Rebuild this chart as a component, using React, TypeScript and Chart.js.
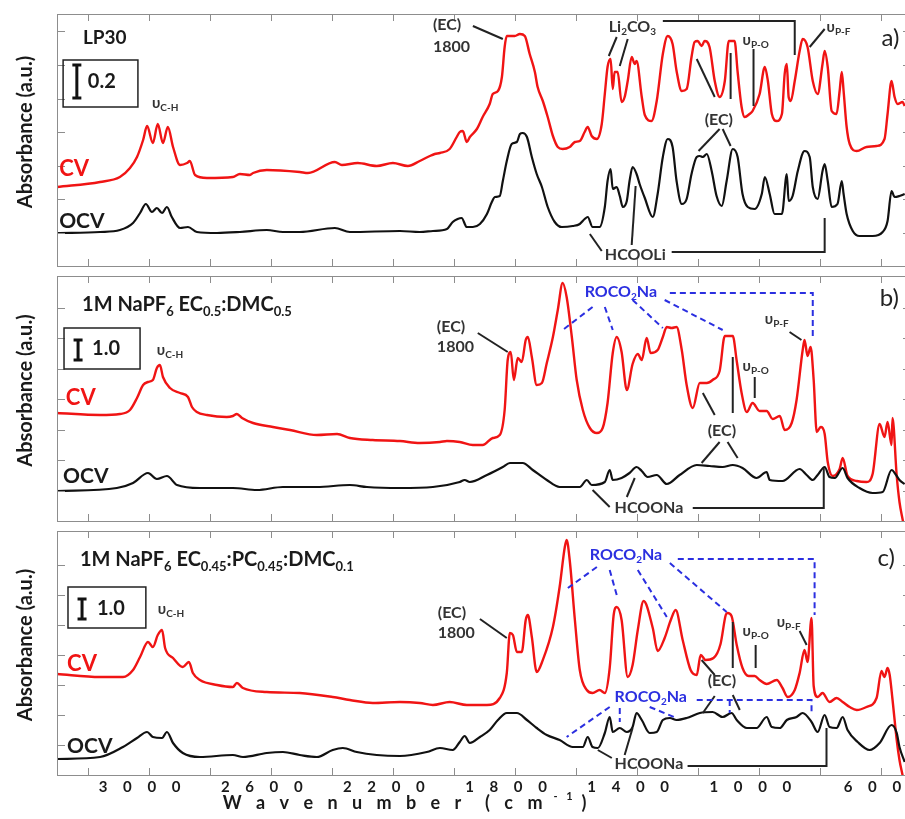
import { useEffect, useRef } from 'react';
import { Chart, registerables } from 'chart.js';
Chart.register(...registerables);

type Pt = [number, number];

// ---- x axis (wavenumber, cm-1) ----
const xTicks = [3200, 3000, 2800, 2600, 2400, 2200, 2000, 1800, 1600, 1400, 1200, 1000, 800, 600];
const xTickLabels = [3000, 2600, 2200, 1800, 1400, 1000, 600];

// ---- panel a) LP30 ----
const lp30CV: Pt[] = [
  [3300, 0.79], [3159, 0.84], [3094, 0.89], [3061, 0.98], [3038, 1.09], [3018, 1.26], [3005, 1.40], [2986, 1.23],
  [2970, 1.42], [2953, 1.23], [2937, 1.39], [2920, 1.19], [2897, 1.01], [2874, 1.03], [2865, 1.05], [2848, 0.91],
  [2809, 0.88], [2724, 0.89], [2701, 0.92], [2668, 0.91], [2658, 0.93], [2613, 0.96], [2505, 0.94], [2478, 0.93],
  [2390, 1.04], [2367, 1.01], [2315, 1.03], [2253, 1.00], [2200, 1.03], [2151, 1.00], [2112, 1.05], [2079, 1.10],
  [2063, 1.12], [2046, 1.13], [2014, 1.17], [1991, 1.29], [1981, 1.34], [1971, 1.35], [1958, 1.24], [1948, 1.29],
  [1925, 1.37], [1906, 1.49], [1883, 1.62], [1873, 1.72], [1856, 1.75], [1843, 1.89], [1834, 2.19], [1827, 2.30],
  [1801, 2.30], [1784, 2.32], [1768, 2.30], [1752, 2.12], [1735, 1.94], [1726, 1.79], [1709, 1.65], [1693, 1.49],
  [1676, 1.30], [1660, 1.19], [1644, 1.17], [1621, 1.19], [1604, 1.24], [1588, 1.25], [1572, 1.34], [1562, 1.39],
  [1549, 1.30], [1532, 1.27], [1516, 1.42], [1506, 1.72], [1497, 1.99], [1487, 2.07], [1480, 1.77], [1474, 1.94],
  [1464, 1.94], [1451, 1.64], [1441, 1.69], [1431, 1.85], [1418, 2.09], [1408, 2.02], [1402, 2.05], [1385, 1.69],
  [1375, 1.51], [1353, 1.45], [1336, 1.65], [1316, 2.12], [1300, 2.30], [1284, 2.22], [1271, 1.95], [1254, 1.75],
  [1238, 1.77], [1222, 2.09], [1212, 2.24], [1202, 2.25], [1189, 2.20], [1179, 2.25], [1163, 2.19], [1146, 1.85],
  [1130, 1.69], [1113, 1.85], [1100, 2.25], [1081, 2.25], [1071, 1.94], [1058, 1.59], [1048, 1.49], [1032, 1.52],
  [1022, 1.55], [999, 1.72], [982, 1.99], [972, 1.85], [959, 1.52], [943, 1.45], [926, 1.52], [917, 1.92],
  [910, 2.02], [904, 1.69], [897, 1.65], [884, 1.85], [868, 2.15], [858, 2.27], [842, 2.19], [825, 1.85],
  [809, 1.72], [793, 2.02], [786, 2.15], [776, 1.99], [763, 1.55], [747, 1.52], [737, 1.75], [730, 1.94],
  [724, 1.75], [714, 1.39], [704, 1.22], [681, 1.15], [649, 1.19], [616, 1.20], [590, 1.27], [580, 1.52],
  [567, 1.85], [557, 1.69], [547, 1.62], [531, 1.64], [524, 1.60],
];
const lp30OCV: Pt[] = [
  [3300, 0.33], [3159, 0.34], [3094, 0.36], [3051, 0.43], [3028, 0.53], [3009, 0.62], [2989, 0.54], [2973, 0.58],
  [2956, 0.53], [2940, 0.59], [2924, 0.49], [2897, 0.38], [2871, 0.39], [2842, 0.34], [2776, 0.33], [2701, 0.34],
  [2613, 0.36], [2560, 0.34], [2505, 0.34], [2390, 0.38], [2341, 0.34], [2177, 0.35], [2112, 0.34], [2069, 0.35],
  [2023, 0.37], [2004, 0.44], [1988, 0.47], [1975, 0.48], [1958, 0.39], [1938, 0.39], [1915, 0.42], [1892, 0.52],
  [1876, 0.64], [1866, 0.69], [1850, 0.70], [1840, 0.85], [1827, 1.05], [1811, 1.22], [1794, 1.24], [1784, 1.32],
  [1775, 1.33], [1761, 1.29], [1745, 1.09], [1729, 0.92], [1712, 0.79], [1693, 0.59], [1670, 0.44], [1647, 0.39],
  [1611, 0.40], [1588, 0.42], [1572, 0.47], [1562, 0.49], [1546, 0.39], [1523, 0.39], [1506, 0.59], [1497, 0.85],
  [1487, 0.97], [1480, 0.77], [1467, 0.79], [1457, 0.70], [1447, 0.59], [1434, 0.65], [1425, 0.85], [1415, 0.99],
  [1402, 0.92], [1392, 0.82], [1375, 0.68], [1349, 0.49], [1333, 0.72], [1316, 1.09], [1300, 1.27], [1284, 1.19],
  [1271, 0.85], [1254, 0.62], [1238, 0.67], [1222, 0.92], [1205, 1.09], [1195, 1.10], [1185, 1.09], [1172, 1.12],
  [1156, 0.95], [1140, 0.70], [1123, 0.60], [1107, 0.85], [1087, 1.17], [1071, 1.09], [1055, 0.72], [1038, 0.59],
  [1015, 0.57], [992, 0.72], [982, 0.89], [966, 0.72], [950, 0.52], [926, 0.52], [910, 0.92], [904, 0.65],
  [891, 0.70], [874, 0.95], [852, 1.15], [835, 1.09], [825, 0.79], [809, 0.67], [793, 0.95], [786, 1.02],
  [776, 0.85], [763, 0.59], [744, 0.62], [730, 0.85], [724, 0.72], [714, 0.52], [694, 0.35], [672, 0.30],
  [629, 0.30], [596, 0.34], [580, 0.45], [567, 0.75], [557, 0.69], [541, 0.70], [524, 0.72],
];

// ---- panel b) 1M NaPF6 EC0.5:DMC0.5 ----
const ecDmcCV: Pt[] = [
  [3300, 1.08], [3159, 1.06], [3094, 1.07], [3061, 1.11], [3038, 1.23], [3018, 1.36], [3002, 1.39], [2986, 1.41],
  [2973, 1.53], [2963, 1.56], [2953, 1.44], [2930, 1.33], [2897, 1.28], [2871, 1.24], [2858, 1.14], [2842, 1.09],
  [2809, 1.06], [2744, 1.04], [2724, 1.05], [2711, 1.07], [2694, 1.03], [2658, 0.98], [2593, 0.94], [2537, 0.91],
  [2449, 0.86], [2383, 0.87], [2341, 0.83], [2266, 0.81], [2177, 0.80], [2112, 0.78], [2046, 0.79], [2023, 0.80],
  [1981, 0.79], [1938, 0.76], [1906, 0.76], [1873, 0.83], [1850, 0.86], [1834, 1.11], [1824, 1.61], [1814, 1.69],
  [1804, 1.41], [1791, 1.63], [1778, 1.59], [1765, 1.81], [1758, 1.84], [1745, 1.64], [1729, 1.36], [1712, 1.38],
  [1696, 1.58], [1676, 1.84], [1660, 2.11], [1644, 2.38], [1631, 2.24], [1614, 1.84], [1598, 1.41], [1578, 1.11],
  [1555, 0.93], [1532, 0.88], [1513, 0.93], [1497, 1.18], [1480, 1.68], [1467, 1.84], [1451, 1.69], [1434, 1.31],
  [1415, 1.57], [1398, 1.67], [1385, 1.61], [1369, 1.83], [1356, 1.68], [1333, 1.71], [1316, 1.84], [1303, 1.94],
  [1287, 1.93], [1271, 1.94], [1254, 1.71], [1238, 1.36], [1218, 1.13], [1195, 1.38], [1172, 1.38], [1153, 1.41],
  [1130, 1.50], [1113, 1.85], [1087, 1.85], [1074, 1.60], [1058, 1.28], [1041, 1.09], [1022, 1.18], [999, 1.10],
  [976, 1.10], [956, 1.02], [933, 1.05], [917, 0.91], [894, 0.98], [878, 1.21], [858, 1.71], [852, 1.81],
  [842, 1.65], [832, 1.74], [822, 1.41], [812, 0.89], [799, 0.94], [786, 0.87], [776, 0.59], [760, 0.45],
  [737, 0.52], [727, 0.63], [711, 0.45], [681, 0.40], [649, 0.39], [629, 0.47], [606, 0.97], [590, 0.84],
  [580, 0.99], [567, 0.76], [564, 1.03], [550, 0.45], [541, 0.19], [531, 0.02], [524, -0.09],
];
const ecDmcOCV: Pt[] = [
  [3300, 0.30], [3104, 0.33], [3051, 0.38], [3002, 0.48], [2973, 0.42], [2940, 0.45], [2907, 0.36], [2832, 0.33],
  [2724, 0.33], [2645, 0.31], [2560, 0.34], [2449, 0.34], [2341, 0.36], [2285, 0.34], [2177, 0.33], [2069, 0.34],
  [1981, 0.39], [1965, 0.41], [1948, 0.39], [1892, 0.46], [1840, 0.54], [1817, 0.58], [1775, 0.58], [1742, 0.51],
  [1696, 0.41], [1654, 0.34], [1588, 0.34], [1565, 0.41], [1549, 0.36], [1506, 0.39], [1490, 0.51], [1480, 0.41],
  [1451, 0.43], [1425, 0.48], [1402, 0.54], [1385, 0.50], [1366, 0.44], [1336, 0.46], [1303, 0.37], [1261, 0.46],
  [1205, 0.56], [1163, 0.55], [1120, 0.54], [1087, 0.56], [1055, 0.53], [1009, 0.43], [976, 0.49], [966, 0.41],
  [924, 0.40], [868, 0.52], [845, 0.46], [825, 0.41], [809, 0.46], [786, 0.54], [770, 0.44], [753, 0.43],
  [727, 0.53], [711, 0.43], [672, 0.33], [629, 0.28], [596, 0.29], [567, 0.51], [550, 0.45], [541, 0.41], [524, 0.37],
];

// ---- panel c) 1M NaPF6 EC0.45:PC0.45:DMC0.1 ----
const ecPcCV: Pt[] = [
  [3300, 1.01], [3159, 0.98], [3084, 0.98], [3051, 1.05], [3028, 1.18], [3002, 1.33], [2986, 1.28], [2970, 1.40],
  [2956, 1.45], [2946, 1.27], [2920, 1.17], [2888, 1.08], [2868, 1.13], [2855, 1.02], [2832, 0.95], [2776, 0.90],
  [2724, 0.88], [2711, 0.92], [2691, 0.87], [2613, 0.83], [2505, 0.82], [2397, 0.78], [2341, 0.75], [2266, 0.72],
  [2177, 0.73], [2112, 0.72], [2069, 0.70], [2014, 0.73], [1958, 0.70], [1892, 0.70], [1850, 0.77], [1827, 1.02],
  [1817, 1.42], [1807, 1.40], [1794, 1.23], [1778, 1.23], [1765, 1.55], [1758, 1.60], [1745, 1.38], [1729, 1.03],
  [1709, 1.15], [1676, 1.48], [1654, 1.88], [1637, 2.28], [1631, 2.35], [1621, 2.15], [1604, 1.55], [1588, 1.05],
  [1565, 0.85], [1546, 0.82], [1523, 0.85], [1506, 0.82], [1490, 1.07], [1477, 1.60], [1467, 1.68], [1451, 1.55],
  [1431, 0.98], [1415, 1.10], [1398, 1.45], [1379, 1.74], [1349, 1.47], [1333, 1.24], [1310, 1.37], [1290, 1.55],
  [1274, 1.65], [1251, 1.35], [1225, 1.05], [1205, 1.00], [1192, 1.20], [1176, 1.15], [1150, 1.17], [1127, 1.31],
  [1110, 1.60], [1104, 1.62], [1091, 1.59], [1074, 1.30], [1055, 1.07], [1035, 0.99], [1015, 0.99], [999, 0.95],
  [976, 0.91], [943, 0.95], [924, 0.87], [907, 0.78], [884, 0.85], [868, 1.02], [852, 1.25], [842, 1.13],
  [829, 1.57], [822, 0.89], [809, 0.78], [793, 0.82], [770, 0.73], [747, 0.77], [727, 0.73], [704, 0.68],
  [681, 0.65], [649, 0.68], [616, 0.77], [600, 1.04], [590, 0.98], [580, 1.07], [573, 1.00], [564, 0.76],
  [550, 0.35], [541, 0.15], [531, 0.00], [524, -0.10],
];
const ecPcOCV: Pt[] = [
  [3300, 0.16], [3159, 0.18], [3084, 0.28], [3038, 0.37], [3005, 0.43], [2986, 0.38], [2956, 0.37], [2940, 0.43],
  [2920, 0.32], [2888, 0.22], [2832, 0.18], [2724, 0.20], [2691, 0.18], [2613, 0.22], [2560, 0.23], [2505, 0.20],
  [2449, 0.18], [2397, 0.25], [2364, 0.27], [2318, 0.23], [2253, 0.20], [2177, 0.19], [2089, 0.23], [2046, 0.27],
  [2004, 0.25], [1981, 0.33], [1965, 0.39], [1948, 0.32], [1915, 0.38], [1883, 0.45], [1856, 0.55], [1827, 0.62],
  [1794, 0.62], [1761, 0.55], [1729, 0.47], [1696, 0.40], [1654, 0.35], [1611, 0.28], [1578, 0.28], [1562, 0.38],
  [1546, 0.28], [1529, 0.27], [1506, 0.42], [1490, 0.58], [1480, 0.43], [1457, 0.47], [1434, 0.43], [1415, 0.48],
  [1402, 0.62], [1385, 0.55], [1359, 0.42], [1336, 0.43], [1316, 0.55], [1293, 0.57], [1271, 0.55], [1238, 0.57],
  [1195, 0.62], [1153, 0.63], [1120, 0.58], [1091, 0.62], [1074, 0.55], [1041, 0.47], [1009, 0.47], [976, 0.58],
  [959, 0.48], [933, 0.47], [910, 0.55], [878, 0.58], [858, 0.62], [829, 0.53], [809, 0.43], [786, 0.60],
  [770, 0.48], [747, 0.47], [727, 0.58], [711, 0.45], [678, 0.33], [639, 0.25], [606, 0.32], [567, 0.50],
  [550, 0.42], [541, 0.28], [524, 0.13],
];

// ---- styling ----
const FONT = "Lato, 'Open Sans', 'DejaVu Sans', sans-serif";
const RED = '#f01414';
const BLUE = '#2b2fe0';
const INK = '#1a1a1a';

type Ann =
  | { k: 't'; at: Pt; s: string; size: number; color?: string; weight?: string }
  | { k: 'l'; pts: Pt[]; dash?: boolean }
  | { k: 'box'; a: Pt; b: Pt }
  | { k: 'bar'; x: number; y1: number; y2: number };

const T = (x: number, y: number, s: string, size: number, color?: string, weight?: string): Ann => ({ k: 't', at: [x, y], s, size, color, weight });
const L = (...pts: Pt[]): Ann => ({ k: 'l', pts });
const D = (...pts: Pt[]): Ann => ({ k: 'l', pts, dash: true });

const annA: Ann[] = [
  T(3215, 2.28, 'LP30', 19),
  { k: 'box', a: [3280, 2.06], b: [3035, 1.59] },
  { k: 'bar', x: 3235, y1: 2.02, y2: 1.67 },
  T(3199, 1.84, '0.2', 20),
  T(2989, 1.63, 'υ_{C-H}', 15, '#333'),
  T(3293, 0.97, 'CV', 22, RED),
  T(3293, 0.45, 'OCV', 21),
  T(2069, 2.41, '(EC)', 16, '#333'),
  T(2069, 2.19, '1800', 16, '#333'),
  L([1938, 2.40], [1840, 2.27]),
  T(1493, 2.39, 'Li_{2}CO_{3}', 16, '#333'),
  L([1467, 2.29], [1493, 2.10]),
  L([1431, 2.27], [1457, 2.00]),
  L([1316, 2.45], [884, 2.45], [884, 2.11]),
  T(1055, 2.26, 'υ_{P-O}', 15, '#333'),
  L([1019, 2.17], [1019, 1.60]),
  T(780, 2.39, 'υ_{P-F}', 15, '#333'),
  L([786, 2.37], [835, 2.19]),
  T(600, 2.28, 'a)', 24, '#222', 'normal'),
  T(1179, 1.46, '(EC)', 16, '#333'),
  L([1205, 2.07], [1146, 1.69]),
  L([1094, 2.13], [1094, 1.67]),
  L([1130, 1.37], [1199, 1.15]),
  L([1120, 1.37], [1094, 1.20]),
  T(1506, 0.11, 'HCOOLi', 16, '#333'),
  L([1555, 0.32], [1516, 0.15]),
  L([1405, 0.80], [1418, 0.21]),
  L([1287, 0.14], [786, 0.14], [786, 0.48]),
];

const annB: Ann[] = [
  T(3218, 2.16, '1M NaPF_{6} EC_{0.5}:DMC_{0.5}', 20),
  { k: 'box', a: [3277, 1.93], b: [3028, 1.52] },
  { k: 'bar', x: 3231, y1: 1.82, y2: 1.60 },
  T(3185, 1.72, '1.0', 20),
  T(2973, 1.71, 'υ_{C-H}', 15, '#333'),
  T(3271, 1.23, 'CV', 22, RED),
  T(3280, 0.45, 'OCV', 21),
  T(2056, 1.94, '(EC)', 16, '#333'),
  T(2056, 1.74, '1800', 16, '#333'),
  L([1922, 1.88], [1824, 1.69]),
  T(1572, 2.29, 'ROCO_{2}Na', 16, BLUE),
  D([1546, 2.14], [1644, 1.91]),
  D([1506, 2.14], [1480, 1.91]),
  D([1415, 2.21], [1316, 1.93]),
  D([1310, 2.21], [1120, 1.91]),
  D([1293, 2.28], [825, 2.28], [825, 1.81]),
  T(1055, 1.55, 'υ_{P-O}', 15, '#333'),
  L([1015, 1.44], [1015, 1.23]),
  L([1087, 1.64], [1087, 1.08]),
  L([1185, 1.28], [1146, 1.06]),
  T(982, 2.02, 'υ_{P-F}', 15, '#333'),
  L([901, 1.89], [862, 1.81]),
  T(606, 2.23, 'b)', 24, '#222', 'normal'),
  T(1169, 0.90, '(EC)', 16, '#333'),
  L([1130, 0.79], [1189, 0.58]),
  L([1104, 0.79], [1071, 0.63]),
  T(1474, 0.13, 'HCOONa', 16, '#333'),
  L([1546, 0.31], [1490, 0.14]),
  L([1408, 0.43], [1434, 0.24]),
  L([1218, 0.13], [789, 0.13], [789, 0.53]),
];

const annC: Ann[] = [
  T(3225, 2.15, '1M NaPF_{6} EC_{0.45}:PC_{0.45}:DMC_{0.1}', 20),
  { k: 'box', a: [3264, 1.88], b: [3009, 1.47] },
  { k: 'bar', x: 3218, y1: 1.77, y2: 1.55 },
  T(3169, 1.66, '1.0', 20),
  T(2970, 1.66, 'υ_{C-H}', 15, '#333'),
  T(3267, 1.11, 'CV', 22, RED),
  T(3267, 0.29, 'OCV', 21),
  T(2053, 1.62, '(EC)', 16, '#333'),
  T(2053, 1.42, '1800', 16, '#333'),
  L([1915, 1.56], [1827, 1.37]),
  T(1555, 2.20, 'ROCO_{2}Na', 16, BLUE),
  D([1532, 2.08], [1627, 1.87]),
  D([1490, 2.05], [1467, 1.80]),
  D([1398, 2.05], [1303, 1.58]),
  D([1293, 2.12], [1107, 1.63]),
  D([1267, 2.16], [819, 2.16], [819, 1.60]),
  T(1055, 1.44, 'υ_{P-O}', 15, '#333'),
  L([1012, 1.30], [1012, 1.07]),
  L([1087, 1.53], [1087, 1.07]),
  L([1189, 1.15], [1146, 1.00]),
  T(943, 1.53, 'υ_{P-F}', 15, '#333'),
  L([868, 1.44], [845, 1.30]),
  T(613, 2.17, 'c)', 24, '#222', 'normal'),
  T(1169, 0.94, '(EC)', 16, '#333'),
  L([1146, 0.79], [1185, 0.62]),
  L([1087, 0.80], [1064, 0.65]),
  T(1474, 0.78, 'ROCO_{2}Na', 16, BLUE),
  D([1490, 0.68], [1631, 0.38]),
  D([1457, 0.67], [1457, 0.53]),
  D([1359, 0.68], [1271, 0.57]),
  D([1205, 0.75], [829, 0.75], [829, 0.60]),
  D([1097, 0.75], [1097, 0.62]),
  T(1474, 0.11, 'HCOONa', 16, '#333'),
  L([1529, 0.25], [1483, 0.17]),
  L([1415, 0.47], [1441, 0.20]),
  L([1235, 0.09], [780, 0.09], [780, 0.47]),
];

type PanelCfg = {
  cv: Pt[];
  ocv: Pt[];
  ann: Ann[];
  yMax: number;
  yStep: number;
  top: number;
  height: number;
  padTop: number;
  padBottom: number;
  xLabels: boolean;
};

const panels: PanelCfg[] = [
  { cv: lp30CV, ocv: lp30OCV, ann: annA, yMax: 2.52, yStep: 0.335, top: 0, height: 275, padTop: 14, padBottom: 9, xLabels: false },
  { cv: ecDmcCV, ocv: ecDmcOCV, ann: annB, yMax: 2.45, yStep: 0.305, top: 271, height: 255, padTop: 5, padBottom: 5, xLabels: false },
  { cv: ecPcCV, ocv: ecPcOCV, ann: annC, yMax: 2.44, yStep: 0.30, top: 526, height: 293, padTop: 5, padBottom: 44, xLabels: true },
];

function drawRich(ctx: CanvasRenderingContext2D, text: string, x: number, y: number, size: number, weight: string, color: string) {
  const parts = text.split(/(_\{[^}]*\}|\^\{[^}]*\})/).filter((p) => p.length > 0);
  let cx = x;
  ctx.fillStyle = color;
  ctx.textBaseline = 'middle';
  ctx.textAlign = 'left';
  for (const p of parts) {
    let t = p;
    let s = size;
    let dy = 0;
    if (p.startsWith('_{')) { t = p.slice(2, -1); s = Math.round(size * 0.65); dy = size * 0.32; }
    else if (p.startsWith('^{')) { t = p.slice(2, -1); s = Math.round(size * 0.65); dy = -size * 0.38; }
    ctx.font = `${weight} ${s}px ${FONT}`;
    ctx.fillText(t, cx, y + dy);
    cx += ctx.measureText(t).width;
  }
}

function makePlugin(cfg: PanelCfg) {
  return {
    id: 'panelDecor',
    afterDraw(chart: any) {
      const ctx: CanvasRenderingContext2D = chart.ctx;
      const a = chart.chartArea;
      const xs = chart.scales.x;
      const ys = chart.scales.y;
      const X = (v: number) => xs.getPixelForValue(v);
      const Y = (v: number) => ys.getPixelForValue(v);
      ctx.save();
      // frame
      ctx.strokeStyle = '#8d8d8d';
      ctx.lineWidth = 1;
      ctx.strokeRect(Math.round(a.left) + 0.5, Math.round(a.top) + 0.5, Math.round(a.right - a.left), Math.round(a.bottom - a.top));
      // inward ticks
      ctx.beginPath();
      for (const w of xTicks) {
        const px = Math.round(X(w)) + 0.5;
        ctx.moveTo(px, a.bottom); ctx.lineTo(px, a.bottom - 7);
        ctx.moveTo(px, a.top); ctx.lineTo(px, a.top + 7);
      }
      for (let k = 1; k * cfg.yStep < cfg.yMax - 0.05; k++) {
        const py = Math.round(Y(k * cfg.yStep)) + 0.5;
        ctx.moveTo(a.left, py); ctx.lineTo(a.left + 8, py);
        ctx.moveTo(a.right, py); ctx.lineTo(a.right - 9, py);
      }
      ctx.stroke();

      // annotations
      for (const an of cfg.ann) {
        if (an.k === 't') {
          drawRich(ctx, an.s, X(an.at[0]), Y(an.at[1]), an.size, an.weight ?? 'bold', an.color ?? INK);
        } else if (an.k === 'l') {
          ctx.beginPath();
          ctx.strokeStyle = an.dash ? BLUE : '#222';
          ctx.lineWidth = 2;
          ctx.setLineDash(an.dash ? [6, 4] : []);
          an.pts.forEach(([wx, wy], i) => (i === 0 ? ctx.moveTo(X(wx), Y(wy)) : ctx.lineTo(X(wx), Y(wy))));
          ctx.stroke();
          ctx.setLineDash([]);
        } else if (an.k === 'box') {
          ctx.strokeStyle = '#222';
          ctx.lineWidth = 1.5;
          const x1 = X(an.a[0]), y1 = Y(an.a[1]), x2 = X(an.b[0]), y2 = Y(an.b[1]);
          ctx.strokeRect(x1, y1, x2 - x1, y2 - y1);
        } else if (an.k === 'bar') {
          const bx = X(an.x), b1 = Y(an.y1), b2 = Y(an.y2);
          ctx.strokeStyle = '#111';
          ctx.lineWidth = 3;
          ctx.beginPath();
          ctx.moveTo(bx, b1); ctx.lineTo(bx, b2);
          ctx.moveTo(bx - 4.5, b1 + 1); ctx.lineTo(bx + 4.5, b1 + 1);
          ctx.moveTo(bx - 4.5, b2 - 1); ctx.lineTo(bx + 4.5, b2 - 1);
          ctx.stroke();
        }
      }

      // y-axis title
      ctx.save();
      ctx.translate(a.left - 31, (a.top + a.bottom) / 2 - 8);
      ctx.rotate(-Math.PI / 2);
      ctx.font = `bold 20px ${FONT}`;
      ctx.fillStyle = INK;
      ctx.textAlign = 'center';
      ctx.textBaseline = 'middle';
      ctx.fillText('Absorbance (a.u.)', 0, 0);
      ctx.restore();

      // x-axis labels and title
      if (cfg.xLabels) {
        const c2: any = ctx;
        ctx.fillStyle = INK;
        ctx.textBaseline = 'middle';
        ctx.textAlign = 'center';
        ctx.font = `bold 15px ${FONT}`;
        c2.letterSpacing = '6px';
        for (const w of xTickLabels) {
          const lbl = String(w).split('').join(' ');
          ctx.fillText(lbl, X(w) - 6, a.bottom + 12);
        }
        ctx.font = `bold 18px ${FONT}`;
        c2.letterSpacing = '5px';
        ctx.textAlign = 'left';
        const main = 'W a v e n u m b e r  ( c m';
        const x0 = X(2757);
        const yT = a.bottom + 28;
        ctx.fillText(main, x0, yT);
        let cx = x0 + ctx.measureText(main).width + 6;
        ctx.font = `bold 11px ${FONT}`;
        c2.letterSpacing = '3px';
        ctx.fillText('- 1', cx, yT - 7);
        cx += ctx.measureText('- 1').width + 6;
        ctx.font = `bold 18px ${FONT}`;
        c2.letterSpacing = '0px';
        ctx.fillText(')', cx, yT);
      }
      ctx.restore();
    },
  };
}

function Panel({ cfg }: { cfg: PanelCfg }) {
  const ref = useRef<HTMLCanvasElement>(null);
  useEffect(() => {
    if (!ref.current) return;
    const chart = new Chart(ref.current, {
      type: 'line',
      data: {
        datasets: [
          {
            label: 'OCV',
            data: cfg.ocv.map(([x, y]) => ({ x, y })),
            borderColor: '#111111',
            borderWidth: 2.2,
            pointRadius: 0,
            cubicInterpolationMode: 'monotone',
          },
          {
            label: 'CV',
            data: cfg.cv.map(([x, y]) => ({ x, y })),
            borderColor: RED,
            borderWidth: 2.4,
            pointRadius: 0,
            cubicInterpolationMode: 'monotone',
          },
        ],
      },
      options: {
        responsive: false,
        maintainAspectRatio: false,
        animation: false,
        events: [],
        layout: { padding: { left: 57, right: 1, top: cfg.padTop, bottom: cfg.padBottom } },
        scales: {
          x: { type: 'linear', reverse: true, min: 500, max: 3300, display: false },
          y: { type: 'linear', min: 0, max: cfg.yMax, display: false },
        },
        plugins: { legend: { display: false }, tooltip: { enabled: false }, title: { display: false } },
      },
      plugins: [makePlugin(cfg)],
    });
    return () => chart.destroy();
  }, [cfg]);
  return (
    <canvas
      ref={ref}
      width={913}
      height={cfg.height}
      style={{ position: 'absolute', left: 0, top: cfg.top, width: 913, height: cfg.height }}
    />
  );
}

export default function App() {
  return (
    <div style={{ position: 'fixed', left: 0, top: 0, width: 905, height: 819, overflow: 'hidden', background: '#fff' }}>
      {panels.map((p, i) => (
        <Panel key={i} cfg={p} />
      ))}
    </div>
  );
}
